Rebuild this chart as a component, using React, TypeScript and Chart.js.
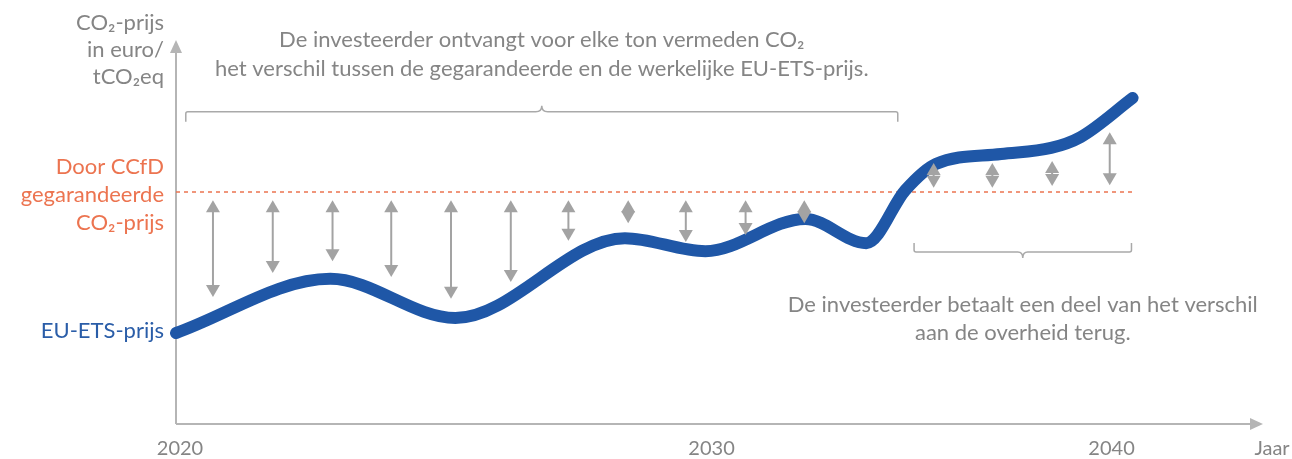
import React, { useEffect, useRef } from "react";
import { Chart, registerables } from "chart.js";

Chart.register(...registerables);

// ---- data (abstract diagram units: x = time axis 0..100, y = CO2 price 0..100) ----
const curveX = [0, 14.2, 25.7, 41.3, 48.7, 57.9, 63.5, 67.1, 69.9, 75.9, 80.5, 83.2, 88.0];
const curveY = [23.7, 37.8, 27.6, 48.4, 45.0, 53.4, 47.1, 60.9, 67.7, 70.3, 71.9, 74.7, 84.9];
const guaranteedPrice = 60.4;
const guaranteedEndX = 88.0;

const arrowX = [3.4, 8.9, 14.4, 19.8, 25.3, 30.8, 36.1, 41.6, 46.9, 52.4, 57.8, 69.7, 75.1, 80.6, 85.9];
const arrowFrom = [58.3, 58.3, 58.3, 58.3, 58.3, 58.3, 58.3, 58.3, 58.3, 58.3, 58.3, 68.0, 68.0, 68.5, 76.0];
const arrowTo = [33.1, 39.3, 42.4, 38.3, 32.6, 37.0, 47.7, 52.3, 47.4, 49.2, 52.3, 61.5, 61.5, 62.0, 62.2];

const xTickValues = [0, 48.9, 85.7];
const xTickLabels = ["2020", "2030", "2040"];
const xAxisTitle = "Jaar";
const yAxisTitle = ["CO\u2082-prijs", "in euro/", "tCO\u2082eq"];
const guaranteedLabel = ["Door CCfD", "gegarandeerde", "CO\u2082-prijs"];
const etsLabel = "EU-ETS-prijs";
const topNote = [
  "De investeerder ontvangt voor elke ton vermeden CO\u2082",
  "het verschil tussen de gegarandeerde en de werkelijke EU-ETS-prijs.",
];
const bottomNote = ["De investeerder betaalt een deel van het verschil", "aan de overheid terug."];
const topBrace = { from: 0.9, to: 66.4, y: 81.3 };
const bottomBrace = { from: 67.9, to: 87.9, y: 44.8 };

const FONT = "Lato, 'Open Sans', sans-serif";
const GREY_TEXT = "#858585";
const AXIS = "#b5b5b5";
const ARROW = "#a3a3a3";
const BLUE = "#1f57a7";
const ORANGE = "#ec7450";

function drawArrowHead(ctx: CanvasRenderingContext2D, x: number, tipY: number, dir: number) {
  const hw = 7, len = 12;
  ctx.beginPath();
  ctx.moveTo(x, tipY);
  ctx.lineTo(x - hw, tipY + dir * len);
  ctx.lineTo(x + hw, tipY + dir * len);
  ctx.closePath();
  ctx.fill();
}

const diagramPlugin = {
  id: "diagram",
  beforeDatasetsDraw(chart: any) {
    const ctx = chart.ctx as CanvasRenderingContext2D;
    const xs = chart.scales.x, ys = chart.scales.y;
    const x0 = xs.getPixelForValue(0);
    const y0 = ys.getPixelForValue(0);
    const yTop = ys.getPixelForValue(100);
    const xRight = xs.getPixelForValue(100);
    ctx.save();
    ctx.strokeStyle = AXIS;
    ctx.fillStyle = AXIS;
    ctx.lineWidth = 2;
    ctx.beginPath();
    ctx.moveTo(x0, y0);
    ctx.lineTo(x0, yTop + 10);
    ctx.moveTo(x0, y0);
    ctx.lineTo(xRight - 10, y0);
    ctx.stroke();
    // arrow heads
    ctx.beginPath();
    ctx.moveTo(x0, yTop);
    ctx.lineTo(x0 - 6, yTop + 13);
    ctx.lineTo(x0 + 6, yTop + 13);
    ctx.closePath();
    ctx.fill();
    ctx.beginPath();
    ctx.moveTo(xRight, y0);
    ctx.lineTo(xRight - 13, y0 - 6);
    ctx.lineTo(xRight - 13, y0 + 6);
    ctx.closePath();
    ctx.fill();

    // braces
    ctx.strokeStyle = "#a9a9a9";
    ctx.lineWidth = 1.5;
    const tb = { l: xs.getPixelForValue(topBrace.from), r: xs.getPixelForValue(topBrace.to), y: ys.getPixelForValue(topBrace.y) };
    const tm = (tb.l + tb.r) / 2;
    ctx.beginPath();
    ctx.moveTo(tb.l, tb.y + 10);
    ctx.lineTo(tb.l, tb.y + 2);
    ctx.quadraticCurveTo(tb.l, tb.y, tb.l + 2, tb.y);
    ctx.lineTo(tm - 6, tb.y);
    ctx.quadraticCurveTo(tm, tb.y, tm, tb.y - 6);
    ctx.quadraticCurveTo(tm, tb.y, tm + 6, tb.y);
    ctx.lineTo(tb.r - 2, tb.y);
    ctx.quadraticCurveTo(tb.r, tb.y, tb.r, tb.y + 2);
    ctx.lineTo(tb.r, tb.y + 10);
    ctx.stroke();

    const bb = { l: xs.getPixelForValue(bottomBrace.from), r: xs.getPixelForValue(bottomBrace.to), y: ys.getPixelForValue(bottomBrace.y) };
    const bm = (bb.l + bb.r) / 2;
    ctx.beginPath();
    ctx.moveTo(bb.l, bb.y - 9);
    ctx.lineTo(bb.l, bb.y - 2);
    ctx.quadraticCurveTo(bb.l, bb.y, bb.l + 2, bb.y);
    ctx.lineTo(bm - 5, bb.y);
    ctx.quadraticCurveTo(bm, bb.y, bm, bb.y + 6);
    ctx.quadraticCurveTo(bm, bb.y, bm + 5, bb.y);
    ctx.lineTo(bb.r - 2, bb.y);
    ctx.quadraticCurveTo(bb.r, bb.y, bb.r, bb.y - 2);
    ctx.lineTo(bb.r, bb.y - 9);
    ctx.stroke();

    // texts
    ctx.textBaseline = "middle";
    ctx.fillStyle = GREY_TEXT;
    ctx.textAlign = "center";
    ctx.font = `20px ${FONT}`;
    xTickValues.forEach((v, i) => {
      ctx.fillText(xTickLabels[i], xs.getPixelForValue(v) + 4, y0 + 25);
    });
    ctx.fillText(xAxisTitle, xRight + 9, y0 + 25);
    ctx.font = `22px ${FONT}`;
    topNote.forEach((t, i) => ctx.fillText(t, tm, 40 + i * 29));
    bottomNote.forEach((t, i) => ctx.fillText(t, bm, bb.y + 53 + i * 28));

    ctx.textAlign = "right";
    yAxisTitle.forEach((t, i) => ctx.fillText(t, x0 - 12, 23 + i * 27));
    ctx.fillStyle = ORANGE;
    const gy = ys.getPixelForValue(guaranteedPrice);
    guaranteedLabel.forEach((t, i) => ctx.fillText(t, x0 - 12, gy - 25 + i * 28));
    ctx.fillStyle = "#2a5da8";
    ctx.fillText(etsLabel, x0 - 12, ys.getPixelForValue(curveY[0]) - 2);
    ctx.restore();
  },
  afterDatasetsDraw(chart: any) {
    const ctx = chart.ctx as CanvasRenderingContext2D;
    const xs = chart.scales.x, ys = chart.scales.y;
    ctx.save();
    ctx.strokeStyle = ARROW;
    ctx.fillStyle = ARROW;
    ctx.lineWidth = 2;
    arrowX.forEach((xv, i) => {
      const x = xs.getPixelForValue(xv);
      const a = ys.getPixelForValue(arrowFrom[i]);
      const b = ys.getPixelForValue(arrowTo[i]);
      const top = Math.min(a, b), bot = Math.max(a, b);
      if (bot - top > 24) {
        ctx.beginPath();
        ctx.moveTo(x, top + 10);
        ctx.lineTo(x, bot - 10);
        ctx.stroke();
      }
      drawArrowHead(ctx, x, top, 1);
      drawArrowHead(ctx, x, bot, -1);
    });
    ctx.restore();
  },
};

export default function App() {
  const ref = useRef<HTMLCanvasElement | null>(null);
  useEffect(() => {
    document.body.style.margin = "0";
    const canvas = ref.current;
    if (!canvas) return;
    const chart = new Chart(canvas, {
      type: "line",
      data: {
        datasets: [
          {
            label: etsLabel,
            data: curveX.map((x, i) => ({ x, y: curveY[i] })),
            borderColor: BLUE,
            borderWidth: 12,
            borderCapStyle: "round",
            borderJoinStyle: "round",
            cubicInterpolationMode: "monotone",
            pointRadius: 0,
            clip: false,
            order: 1,
          },
          {
            label: guaranteedLabel.join(" "),
            data: [
              { x: 0, y: guaranteedPrice },
              { x: guaranteedEndX, y: guaranteedPrice },
            ],
            borderColor: ORANGE,
            borderWidth: 1.5,
            borderDash: [4, 4],
            pointRadius: 0,
            order: 2,
          },
        ],
      },
      options: {
        animation: false,
        responsive: false,
        events: [],
        layout: { padding: { left: 176, right: 29, top: 40, bottom: 35 } },
        plugins: { legend: { display: false }, tooltip: { enabled: false } },
        scales: {
          x: { type: "linear", min: 0, max: 100, display: false },
          y: { type: "linear", min: 0, max: 100, display: false },
        },
      },
      plugins: [diagramPlugin],
    } as any);
    return () => chart.destroy();
  }, []);
  return (
    <div style={{ width: 1292, height: 459 }}>
      <canvas ref={ref} width={1292} height={459} style={{ display: "block" }} />
    </div>
  );
}
